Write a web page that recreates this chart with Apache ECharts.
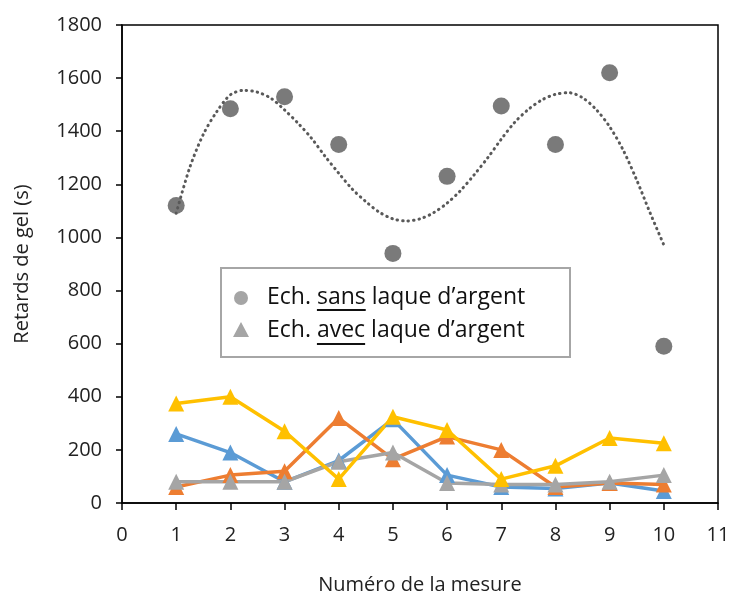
<!DOCTYPE html>
<html>
<head>
<meta charset="utf-8">
<script src="https://cdn.jsdelivr.net/npm/echarts@6/dist/echarts.min.js"></script>
<style>
  html, body { margin: 0; padding: 0; background: #fff; }
  #chart { width: 731px; height: 592px; }
</style>
</head>
<body>
<div id="chart"></div>
<script>
// mesures 1..10
var mesures = [1, 2, 3, 4, 5, 6, 7, 8, 9, 10];
// echantillons sans laque
var sansLaque = [1120, 1485, 1530, 1350, 940, 1230, 1495, 1350, 1620, 590];
var tendanceX = [1, 1.25, 1.5, 1.75, 2, 2.25, 2.5, 2.75, 3, 3.25, 3.5, 3.75, 4, 4.25, 4.5, 4.75, 5, 5.25, 5.5, 5.75,
	6, 6.25, 6.5, 6.75, 7, 7.25, 7.5, 7.75, 8, 8.25, 8.5, 8.75, 9, 9.25, 9.5, 9.75, 10];
var tendanceY = [1091, 1263, 1388, 1474, 1537, 1554, 1547, 1524, 1480, 1430, 1373, 1305, 1242, 1182, 1135, 1095, 1070, 1062, 1070, 1093,
	1129, 1177, 1236, 1300, 1370, 1434, 1482, 1518, 1539, 1545, 1526, 1482, 1417, 1329, 1216, 1091, 972];
// echantillons avec laque
var avecBleu = [260, 190, 80, 160, 315, 105, 60, 55, 75, 45];
var avecOrange = [60, 105, 120, 320, 165, 250, 200, 60, 75, 70];
var avecGris = [80, 80, 80, 155, 190, 75, 70, 70, 80, 105];
var avecJaune = [375, 400, 270, 90, 325, 275, 90, 140, 245, 225];

var FONT = '"Open Sans", sans-serif';

function pairs(xs, ys){
	return xs.map(function(x, i){ return [x, ys[i]]; });
}

function triSerie(name, color, data){
	return {
		name: name,
		type: 'line',
		data: pairs(mesures, data),
		symbol: 'triangle',
		symbolSize: 16,
		lineStyle: { color: color, width: 3.5 },
		itemStyle: { color: color },
		animation: false
	};
}

// largeur de texte pour placer les soulignements
var ctx = document.createElement('canvas').getContext('2d');
function largeur(txt, size){
	ctx.font = size + 'px ' + FONT;
	return ctx.measureText(txt).width;
}

var legSize = 23;
var legX = 267;
var ligne1 = 'Ech. sans laque d\u2019argent';
var ligne2 = 'Ech. avec laque d\u2019argent';
var u1x = legX + largeur('Ech. ', legSize);
var u1w = largeur('sans', legSize);
var u2x = legX + largeur('Ech. ', legSize);
var u2w = largeur('avec', legSize);

var chart = echarts.init(document.getElementById('chart'));
var option = {
	animation: false,
	grid: {
		left: 122,
		right: 13,
		top: 25,
		bottom: 89,
		outerBoundsMode: 'none',
		show: true,
		borderColor: '#000',
		borderWidth: 1.5
	},
	xAxis: {
		type: 'value',
		min: 0,
		max: 11,
		interval: 1,
		name: 'Numéro de la mesure',
		nameLocation: 'middle',
		nameGap: 72,
		nameTextStyle: { fontFamily: FONT, fontSize: 20, color: '#222' },
		axisLine: { lineStyle: { color: '#000', width: 1.5 } },
		axisTick: { show: true, length: 7, lineStyle: { color: '#000', width: 1.5 } },
		axisLabel: { fontFamily: FONT, fontSize: 20, color: '#222', margin: 22 },
		splitLine: { show: false }
	},
	yAxis: {
		type: 'value',
		min: 0,
		max: 1800,
		interval: 200,
		name: 'Retards de gel (s)',
		nameLocation: 'middle',
		nameGap: 90,
		nameTextStyle: { fontFamily: FONT, fontSize: 20, color: '#222' },
		axisLine: { show: true, lineStyle: { color: '#000', width: 1.5 } },
		axisTick: { show: true, length: 6, lineStyle: { color: '#000', width: 1.5 } },
		axisLabel: { fontFamily: FONT, fontSize: 20, color: '#222', margin: 20, formatter: function(v){ return String(v); } },
		splitLine: { show: false }
	},
	series: [
		{
			name: 'tendance',
			type: 'line',
			data: pairs(tendanceX, tendanceY),
			smooth: 0.3,
			symbol: 'none',
			lineStyle: { color: '#595959', width: 3, type: [0.5, 5], cap: 'round' },
			z: 1
		},
		{
			name: 'sans',
			type: 'scatter',
			data: pairs(mesures, sansLaque),
			symbol: 'circle',
			symbolSize: 17,
			itemStyle: { color: '#595959' },
			z: 3
		},
		triSerie('bleu', '#5B9BD5', avecBleu),
		triSerie('orange', '#ED7D31', avecOrange),
		triSerie('gris', '#A5A5A5', avecGris),
		triSerie('jaune', '#FFC000', avecJaune)
	],
	graphic: [
		{
			type: 'rect',
			shape: { x: 221, y: 268, width: 349, height: 89 },
			style: { fill: '#fff', stroke: '#A6A6A6', lineWidth: 2 },
			z: 10
		},
		{
			type: 'circle',
			shape: { cx: 241, cy: 298, r: 7 },
			style: { fill: '#A5A5A5' },
			z: 11
		},
		{
			type: 'polygon',
			shape: { points: [[241, 322], [249, 337], [233, 337]] },
			style: { fill: '#A5A5A5' },
			z: 11
		},
		{
			type: 'text',
			x: legX, y: 297,
			style: { text: ligne1, font: legSize + 'px ' + FONT, fill: '#111', verticalAlign: 'middle' },
			z: 11
		},
		{
			type: 'text',
			x: legX, y: 330,
			style: { text: ligne2, font: legSize + 'px ' + FONT, fill: '#111', verticalAlign: 'middle' },
			z: 11
		},
		{
			type: 'line',
			shape: { x1: u1x, y1: 310, x2: u1x + u1w, y2: 310 },
			style: { stroke: '#111', lineWidth: 2 },
			z: 11
		},
		{
			type: 'line',
			shape: { x1: u2x, y1: 344, x2: u2x + u2w, y2: 344 },
			style: { stroke: '#111', lineWidth: 2 },
			z: 11
		}
	]
};
chart.setOption(option);
window.addEventListener('resize', function(){
	chart.resize();
});
</script>
</body>
</html>
